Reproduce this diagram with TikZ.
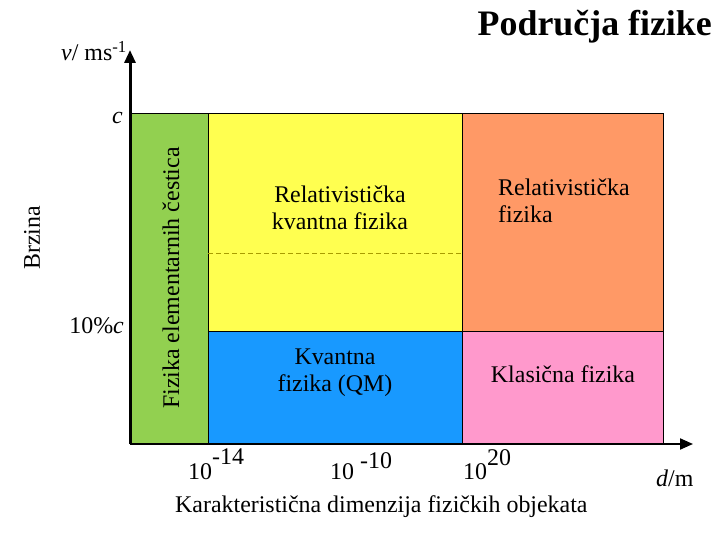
\documentclass[tikz,border=0pt]{standalone}
\usepackage{fontspec}
\setmainfont{Liberation Serif}
\usetikzlibrary{arrows.meta}
\definecolor{FizGreen}{HTML}{92D050}
\definecolor{FizYellow}{HTML}{FFFF50}
\definecolor{FizOrange}{HTML}{FF9966}
\definecolor{FizBlue}{HTML}{1899FF}
\definecolor{FizPink}{HTML}{FF99CC}
\definecolor{FizOlive}{HTML}{A89C00}

\begin{document}
\begin{tikzpicture}[x=1bp, y=-1bp, every node/.style={font=\fontsize{24}{27}\selectfont, inner sep=0pt}, region/.style={draw=black, line width=0.8bp}, field/.style={align=center}, axis/.style={-{Triangle[length=13bp, width=11bp]}, line width=2bp}]
\useasboundingbox (0,0) rectangle (720,540);
% podrucja
\filldraw[region, fill=FizGreen] (130,113) rectangle (208,444);
\filldraw[region, fill=FizYellow] (208,113) rectangle (462,331);
\filldraw[region, fill=FizOrange] (462,113) rectangle (663,331);
\filldraw[region, fill=FizBlue] (208,331) rectangle (462,444);
\filldraw[region, fill=FizPink] (462,331) rectangle (663,444);
\draw[FizOlive, line width=0.8bp, dash pattern=on 5bp off 3bp] (208,253) -- (462,253);
% osi
\coordinate (origin) at (130,444);
\coordinate (vtip) at (130,50);
\coordinate (dtip) at (693,444);
\draw[axis, line width=3bp] (origin) -- (vtip);
\draw[axis] (origin) -- (dtip);
\node[anchor=base east, font=\fontsize{36}{40}\selectfont\bfseries] (title) at (712,36) {Područja fizike};
\node[anchor=base east] (vlabel) at (127,61) {\textit{v}/ ms\textsuperscript{-1}};
\node[anchor=base east] (clabel) at (123,124) {\textit{c}};
\node[anchor=base east] (tenpc) at (124,333) {10\%\textit{c}};
\node[rotate=90] (brzina) at (32,238) {Brzina};
\node[rotate=90] (elem) at (171,278) {Fizika elementarnih čestica};
\node[field] (relkv) at (340,208) {Relativistička\\kvantna fizika};
\node[field, align=left, anchor=west] (rel) at (498,201) {Relativistička\\fizika};
\node[field] (kvant) at (335,373) {Kvantna\\fizika (QM)};
\node[field] (klas) at (563,374) {Klasična fizika};
\node[anchor=base west] (tick1) at (188,479) {10\raisebox{15bp}{-14}};
\node[anchor=base west] (tick2) at (330,479) {10 \raisebox{11bp}{-10}};
\node[anchor=base west] (tick3) at (463,479) {10\raisebox{14bp}{20}};
\node[anchor=base west] (dlabel) at (656,486) {\textit{d}/m};
\node[anchor=base west] (dim) at (175,512) {Karakteristična dimenzija fizičkih objekata};
\end{tikzpicture}
\end{document}
